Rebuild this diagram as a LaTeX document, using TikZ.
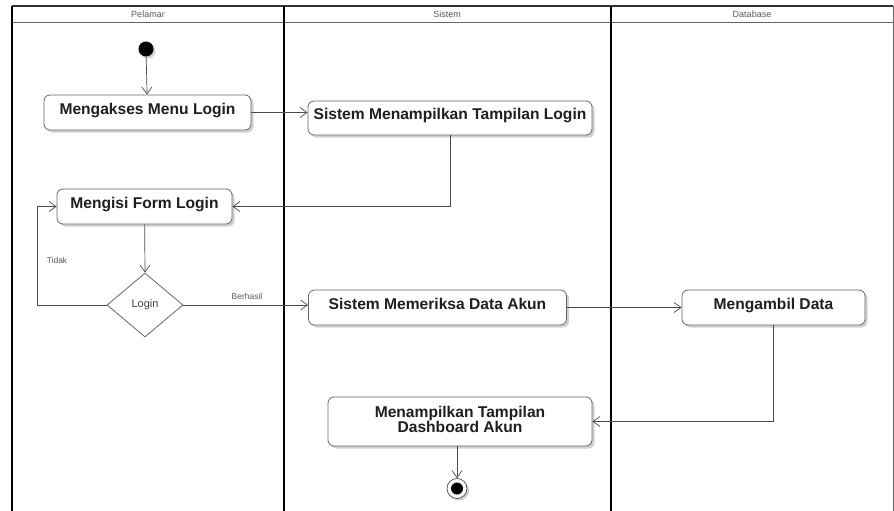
\documentclass[tikz,border=0pt]{standalone}
\usepackage{fontspec}
\setmainfont{Liberation Sans}
\usetikzlibrary{arrows.meta,shapes.geometric,shadows,calc}
\begin{document}
\begin{tikzpicture}[x=1pt,y=-1pt,
  lane/.style={line width=1.6pt, draw=black},
  hdr/.style={font=\fontsize{9}{9}\selectfont, text=black!65, inner sep=0pt},
  act/.style={draw=black!60, line width=0.8pt, rounded corners=6pt, fill=white,
    font=\bfseries\fontsize{15.6}{15}\selectfont, text=black!88, inner sep=0pt,
    drop shadow={shadow xshift=2.5pt, shadow yshift=-2.5pt, opacity=0.18, fill=black}},
  act1/.style={act, text height=11.5pt, text depth=8pt},
  conn/.style={draw=black!70, line width=0.7pt, -{Straight Barb[length=7pt,width=10pt,line width=0.7pt]}},
  lbl/.style={font=\fontsize{8.5}{9}\selectfont, text=black!65, inner sep=0pt}]
\useasboundingbox (0,0) rectangle (894,511);
\fill[white] (0,0) rectangle (894,511);
% frame and lanes
\draw[black!80, line width=1.2pt] (12,6) -- (893,6);
\draw[black!60, line width=0.8pt] (12,22) -- (893,22);
\draw[lane] (12,6) -- (12,511);
\draw[lane] (284,6) -- (284,511);
\draw[lane] (611,6) -- (611,511);
\draw[black!60, line width=0.8pt] (893,6) -- (893,511);
\node[hdr] (h1) at (148,14) {Pelamar};
\node[hdr] (h2) at (447,14) {Sistem};
\node[hdr] (h3) at (752,14) {Database};
% nodes
\node[circle, fill=black, minimum size=15pt, inner sep=0pt,
  drop shadow={shadow xshift=2pt, shadow yshift=-2pt, opacity=0.18, fill=black}] (start) at (146,49) {};
\node[act1, minimum width=207pt, minimum height=35pt] (mak) at (147.5,112.5) {Mengakses Menu Login};
\node[act1, minimum width=284pt, minimum height=34pt] (sml) at (450,118) {Sistem Menampilkan Tampilan Login};
\node[act1, minimum width=175pt, minimum height=35pt] (form) at (144.5,206.5) {Mengisi Form Login};
\node[diamond, draw=black!60, line width=0.8pt, fill=white, minimum width=76pt, minimum height=64pt,
  inner sep=0pt, font=\fontsize{11}{11}\selectfont, text=black!75] (dec) at (145,305) {Login};
\node[act1, minimum width=258pt, minimum height=35pt] (smd) at (437.5,307.5) {Sistem Memeriksa Data Akun};
\node[act1, minimum width=183pt, minimum height=35pt] (amb) at (773.5,307.5) {Mengambil Data};
\node[act, minimum width=264pt, minimum height=49pt,
  font=\bfseries\fontsize{15.6}{14}\selectfont] (dash) at (460,421.5)
  {\raisebox{3pt}{\begin{tabular}{@{}c@{}}Menampilkan Tampilan\\Dashboard Akun\end{tabular}}};
\node[circle, draw=black!70, line width=0.7pt, fill=white, minimum size=20pt, inner sep=0pt,
  drop shadow={shadow xshift=2pt, shadow yshift=-2pt, opacity=0.18, fill=black}] (end) at (457,488.5) {};
\node[circle, fill=black, minimum size=12pt, inner sep=0pt] (endin) at (end.center) {};
% connectors
\draw[conn] (start) -- (mak);
\draw[conn] (mak.east) -- (mak.east -| sml.west);
\draw[conn] (sml.south) |- (form.east);
\draw[conn] (form) -- (dec.north);
\draw[conn] (dec.west) -- ++(-69,0) coordinate (lp) |- (form.west);
\draw[conn] (dec.east) -- (dec.east -| smd.west);
\draw[conn] (smd.east) -- (amb.west);
\draw[conn] (amb.south) |- (dash.east);
\draw[conn] (dash.south -| end) -- (end.north);
% labels
\node[lbl] (tidak) at (57,260) {Tidak};
\node[lbl] (berhasil) at (247,296) {Berhasil};
\end{tikzpicture}
\end{document}
